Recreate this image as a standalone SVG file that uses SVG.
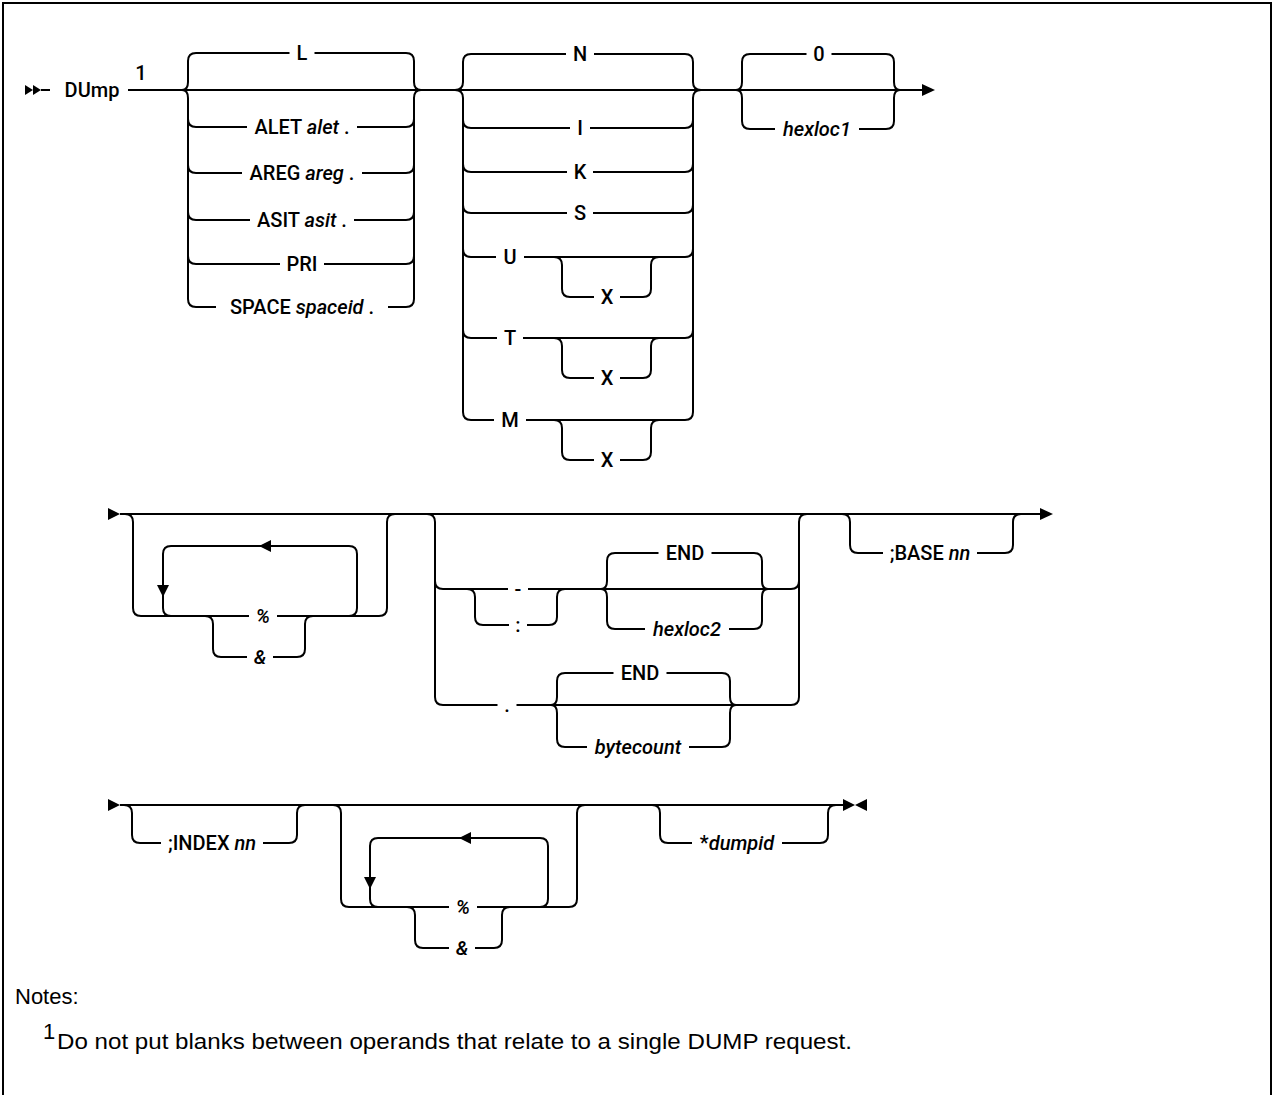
<svg xmlns="http://www.w3.org/2000/svg" width="1273" height="1095" viewBox="0 0 1273 1095">
<style>
.ln{fill:none;stroke:#000;stroke-width:2}
.ar{fill:#000;stroke:none}
.t{font-family:Roboto,"Liberation Sans",Arial,sans-serif;font-size:20px;font-weight:500;fill:#000;text-anchor:middle}
.i{font-style:italic}
.n{font-family:"Liberation Sans",Arial,sans-serif;font-size:22px;fill:#000}
</style>
<rect width="1273" height="1095" fill="#fff"/>
<path class="ln" d="M3,1095 V3 H1271 V1095"/>
<g id="connectors">
<path class="ln" d="M41,90 H50 M128,90 H923"/>
<polygon class="ar" points="25,85 33,90 25,95"/>
<polygon class="ar" points="33,85 41,90 33,95"/>
<polygon class="ar" points="922,84 935,90 922,96"/>
<path class="ln" d="M182,90 Q188,90 188,82 V61 Q188,53 196,53 H289.5 M314.5,53 H406 Q414,53 414,61 V82 Q414,90 421,90"/>
<path class="ln" d="M182,90 Q188,90 188,98 V299 Q188,307 196,307 H216 M388,307 H406 Q414,307 414,299 V98 Q414,90 421,90"/>
<path class="ln" d="M188,119 Q188,127 196,127 H247 M357,127 H406 Q414,127 414,119 M188,165 Q188,173 196,173 H242 M362,173 H406 Q414,173 414,165 M188,212 Q188,220 196,220 H250 M354,220 H406 Q414,220 414,212 M188,256 Q188,264 196,264 H280 M324,264 H406 Q414,264 414,256"/>
<path class="ln" d="M455,90 Q463,90 463,82 V62 Q463,54 471,54 H566 M594,54 H685 Q693,54 693,62 V82 Q693,90 701,90"/>
<path class="ln" d="M455,90 Q463,90 463,98 V412 Q463,420 471,420 H494 M526,420 H685 Q693,420 693,412 V98 Q693,90 701,90"/>
<path class="ln" d="M463,120 Q463,128 471,128 H570 M590,128 H685 Q693,128 693,120 M463,164 Q463,172 471,172 H567 M593,172 H685 Q693,172 693,164 M463,205 Q463,213 471,213 H567 M593,213 H685 Q693,213 693,205 M463,249 Q463,257 471,257 H496 M524,257 H685 Q693,257 693,249 M463,330 Q463,338 471,338 H497 M523,338 H685 Q693,338 693,330"/>
<path class="ln" d="M554,257 Q562,257 562,265 V289 Q562,297 570,297 H594 M620,297 H643 Q651,297 651,289 V265 Q651,257 659,257"/>
<path class="ln" d="M554,338 Q562,338 562,346 V370 Q562,378 570,378 H594 M620,378 H643 Q651,378 651,370 V346 Q651,338 659,338"/>
<path class="ln" d="M554,420 Q562,420 562,428 V452 Q562,460 570,460 H594 M620,460 H643 Q651,460 651,452 V428 Q651,420 659,420"/>
<path class="ln" d="M736,90 Q742,90 742,82 V62 Q742,54 750,54 H806.5 M831.5,54 H886 Q894,54 894,62 V82 Q894,90 900,90"/>
<path class="ln" d="M736,90 Q742,90 742,98 V121 Q742,129 750,129 H775 M859,129 H886 Q894,129 894,121 V98 Q894,90 900,90"/>
<polygon class="ar" points="108,508 120,514 108,520"/>
<path class="ln" d="M120,514 H1041"/>
<polygon class="ar" points="1040,508 1053,514 1040,520"/>
<path class="ln" d="M125,514 Q133,514 133,522 V608 Q133,616 141,616 H249 M277,616 H379 Q387,616 387,608 V522 Q387,514 395,514"/>
<path class="ln" d="M205,616 Q213,616 213,624 V649 Q213,657 221,657 H247 M273,657 H297 Q305,657 305,649 V624 Q305,616 313,616"/>
<path class="ln" d="M171,616 Q163,616 163,608 V554 Q163,546 171,546 H349 Q357,546 357,554 V608 Q357,616 349,616"/>
<polygon class="ar" points="259,546 271,540 271,552"/>
<polygon class="ar" points="157,585 169,585 163,597"/>
<path class="ln" d="M427,514 Q435,514 435,522 V697 Q435,705 443,705 H497.5 M516.5,705 H791 Q799,705 799,697 V522 Q799,514 807,514"/>
<path class="ln" d="M435,581 Q435,589 443,589 H508 M528,589 H791 Q799,589 799,581"/>
<path class="ln" d="M467,589 Q475,589 475,597 V617 Q475,625 483,625 H509 M527,625 H549 Q557,625 557,617 V597 Q557,589 565,589"/>
<path class="ln" d="M601,589 Q607,589 607,581 V561 Q607,553 615,553 H658.5 M711.5,553 H754 Q762,553 762,561 V581 Q762,589 768,589"/>
<path class="ln" d="M601,589 Q607,589 607,597 V621 Q607,629 615,629 H645 M729,629 H754 Q762,629 762,621 V597 Q762,589 768,589"/>
<path class="ln" d="M551,705 Q557,705 557,697 V681 Q557,673 565,673 H613.5 M666.5,673 H722 Q730,673 730,681 V697 Q730,705 736,705"/>
<path class="ln" d="M551,705 Q557,705 557,713 V739 Q557,747 565,747 H587 M689,747 H722 Q730,747 730,739 V713 Q730,705 736,705"/>
<path class="ln" d="M842,514 Q850,514 850,522 V545 Q850,553 858,553 H883 M977,553 H1005 Q1013,553 1013,545 V522 Q1013,514 1021,514"/>
<polygon class="ar" points="108,799 120,805 108,811"/>
<path class="ln" d="M120,805 H844"/>
<polygon class="ar" points="843,799 855,805 843,811"/>
<polygon class="ar" points="867,799 855,805 867,811"/>
<path class="ln" d="M124,805 Q132,805 132,813 V835 Q132,843 140,843 H161 M263,843 H289 Q297,843 297,835 V813 Q297,805 305,805"/>
<path class="ln" d="M333,805 Q341,805 341,813 V899 Q341,907 349,907 H449 M477,907 H569 Q577,907 577,899 V813 Q577,805 585,805"/>
<path class="ln" d="M407,907 Q415,907 415,915 V940 Q415,948 423,948 H449 M475,948 H494 Q502,948 502,940 V915 Q502,907 510,907"/>
<path class="ln" d="M378,907 Q370,907 370,899 V846 Q370,838 378,838 H540 Q548,838 548,846 V899 Q548,907 540,907"/>
<polygon class="ar" points="459,838 471,832 471,844"/>
<polygon class="ar" points="364,877 376,877 370,889"/>
<path class="ln" d="M652,805 Q660,805 660,813 V835 Q660,843 668,843 H692 M782,843 H820 Q828,843 828,835 V813 Q828,805 836,805"/>
</g>
<g id="node-dump"><text class="t" x="92" y="97">DUmp</text><text class="t" x="141" y="80" font-size="17">1</text></g>
<g id="node-L"><text class="t" x="302" y="60">L</text></g>
<g id="node-alet"><text class="t" x="302" y="134">ALET <tspan class="i">alet</tspan> .</text></g>
<g id="node-areg"><text class="t" x="302" y="180">AREG <tspan class="i">areg</tspan> .</text></g>
<g id="node-asit"><text class="t" x="302" y="227">ASIT <tspan class="i">asit</tspan> .</text></g>
<g id="node-pri"><text class="t" x="302" y="271">PRI</text></g>
<g id="node-space"><text class="t" x="302" y="314">SPACE <tspan class="i">spaceid</tspan> .</text></g>
<g id="node-N"><text class="t" x="580" y="61">N</text></g>
<g id="node-I"><text class="t" x="580" y="135">I</text></g>
<g id="node-K"><text class="t" x="580" y="179">K</text></g>
<g id="node-S"><text class="t" x="580" y="220">S</text></g>
<g id="node-U"><text class="t" x="510" y="264">U</text></g>
<g id="node-UX"><text class="t" x="607" y="304">X</text></g>
<g id="node-T"><text class="t" x="510" y="345">T</text></g>
<g id="node-TX"><text class="t" x="607" y="385">X</text></g>
<g id="node-M"><text class="t" x="510" y="427">M</text></g>
<g id="node-MX"><text class="t" x="607" y="467">X</text></g>
<g id="node-0"><text class="t" x="819" y="61">0</text></g>
<g id="node-hexloc1"><text class="t i" x="817" y="136">hexloc1</text></g>
<g id="node-pct1"><text class="t i" x="263" y="623">%</text></g>
<g id="node-amp1"><text class="t i" x="260" y="664">&amp;</text></g>
<g id="node-dash"><text class="t" x="518" y="596">-</text></g>
<g id="node-colon"><text class="t" x="518" y="632">:</text></g>
<g id="node-end1"><text class="t" x="685" y="560">END</text></g>
<g id="node-hexloc2"><text class="t i" x="687" y="636">hexloc2</text></g>
<g id="node-dot"><text class="t" x="507" y="712">.</text></g>
<g id="node-end2"><text class="t" x="640" y="680">END</text></g>
<g id="node-bytecount"><text class="t i" x="638" y="754">bytecount</text></g>
<g id="node-base"><text class="t" x="930" y="560">;BASE <tspan class="i">nn</tspan></text></g>
<g id="node-index"><text class="t" x="212" y="850">;INDEX <tspan class="i">nn</tspan></text></g>
<g id="node-pct2"><text class="t i" x="463" y="914">%</text></g>
<g id="node-amp2"><text class="t i" x="462" y="955">&amp;</text></g>
<g id="node-dumpid"><text class="t" x="737" y="850">*<tspan class="i">dumpid</tspan></text></g>
<g id="notes">
<text class="n" x="15" y="1004">Notes:</text>
<text class="n" x="43" y="1039" font-size="15">1</text>
<text class="n" x="57" y="1049" textLength="795" lengthAdjust="spacingAndGlyphs">Do not put blanks between operands that relate to a single DUMP request.</text>
</g>
</svg>
